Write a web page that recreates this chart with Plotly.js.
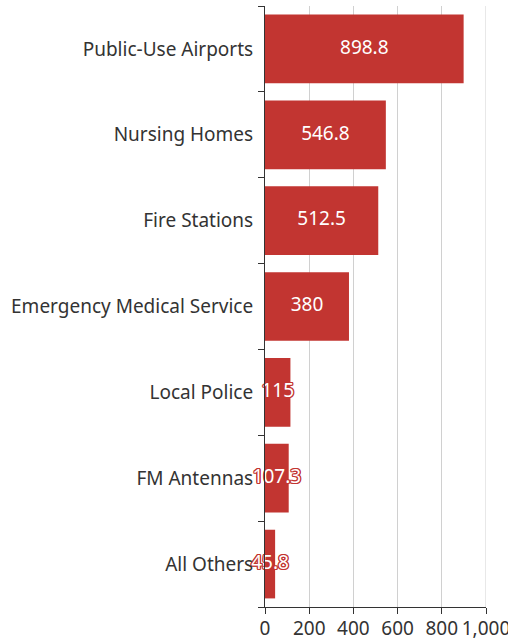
<!DOCTYPE html>
<html>
<head>
<meta charset="utf-8">
<script src="https://cdn.plot.ly/plotly-3.0.1.min.js"></script>
<style>html,body{margin:0;padding:0;background:#fff;}#chart{width:508px;height:638px;}</style>
</head>
<body>
<div id="chart"></div>
<script>
const categories = ["Public-Use Airports", "Nursing Homes", "Fire Stations", "Emergency Medical Service", "Local Police", "FM Antennas", "All Others"];
const values = [898.8, 546.8, 512.5, 380, 115, 107.3, 45.8];
const xTicks = [0, 200, 400, 600, 800, 1000];

const red = "#c23531";
const stroke = [[-1,-1],[1,-1],[-1,1],[1,1],[0,1.3],[0,-1.3],[1.3,0],[-1.3,0]].map(p => p[0]+"px "+p[1]+"px 0 "+red).join(", ");

const bars = {
  type: "bar", orientation: "h",
  x: values, y: categories,
  marker: {color: red},
  hoverinfo: "none"
};
const labels = {
  type: "scatter", mode: "text",
  x: values.map(v => v / 2), y: categories,
  text: values.map(v => String(v)),
  textposition: "middle center",
  textfont: {family: "Noto Sans, Open Sans, sans-serif", size: 19, color: "#ffffff", shadow: stroke},
  hoverinfo: "none", cliponaxis: false
};

const layout = {
  width: 508, height: 638,
  margin: {l: 265, r: 22, t: 6, b: 31, pad: 0},
  paper_bgcolor: "#fff", plot_bgcolor: "#fff",
  showlegend: false,
  bargap: 0.2,
  font: {family: "Noto Sans, Open Sans, sans-serif", size: 19, color: "#333"},
  xaxis: {
    range: [0, 1000], tickvals: xTicks, tickformat: ",",
    ticklabeloverflow: "allow", ticklabelstandoff: -2,
    showgrid: true, gridcolor: "#d0d0d0", gridwidth: 1,
    zeroline: false, showline: true, linecolor: "#333", linewidth: 1,
    ticks: "outside", ticklen: 6, tickcolor: "#333",
    tickfont: {size: 19, color: "#333"}, fixedrange: true
  },
  yaxis: {
    type: "category", categoryorder: "array", categoryarray: categories.slice().reverse(),
    tickson: "boundaries", ticks: "outside", ticklen: 6, tickcolor: "#333",
    showgrid: false, zeroline: false, showline: true, linecolor: "#333", linewidth: 1,
    tickfont: {size: 19, color: "#333"}, ticklabelstandoff: 7, fixedrange: true
  },
  shapes: [{
    type: "line", xref: "x", yref: "paper", x0: xTicks[xTicks.length - 1], x1: xTicks[xTicks.length - 1], y0: 0, y1: 1,
    line: {color: "#d0d0d0", width: 1}, layer: "below"
  }]
};

Plotly.newPlot("chart", [bars, labels], layout, {displayModeBar: false, staticPlot: true});
</script>
</body>
</html>
